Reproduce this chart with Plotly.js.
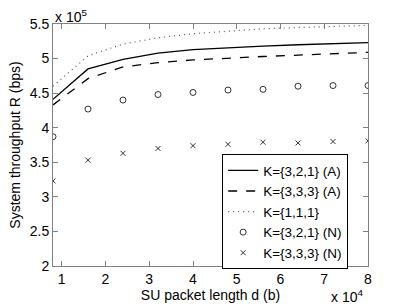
<!DOCTYPE html>
<html>
<head>
<meta charset="utf-8">
<script src="https://cdn.plot.ly/plotly-3.0.1.min.js"></script>
<style>html,body{margin:0;padding:0;background:#fff;}#chart{width:407px;height:306px;}</style>
</head>
<body>
<div id="chart"></div>
<script>
const packetLength = [8000, 16000, 24000, 32000, 40000, 48000, 56000, 64000, 72000, 80000];
const k321A = [441000, 485000, 499000, 508000, 513000, 516000, 518000, 520000, 522000, 523000];
const k333A = [433000, 471000, 488000, 494000, 498000, 501000, 503000, 505000, 507000, 509000];
const k111 = [460000, 504000, 521000, 530000, 536000, 540000, 543000, 545000, 547000, 548000];
const k321N = [387000, 427000, 440000, 448000, 451000, 454500, 455500, 460000, 461000, 461000];
const k333N = [323000, 353000, 363000, 370000, 374000, 376000, 379000, 378000, 380000, 381000];
const seriesNames = ['K={3,2,1} (A)', 'K={3,3,3} (A)', 'K={1,1,1}', 'K={3,2,1} (N)', 'K={3,3,3} (N)'];
const xTickVals = [10000, 20000, 30000, 40000, 50000, 60000, 70000, 80000];
const xTickText = ['1', '2', '3', '4', '5', '6', '7', '8'];
const yTickVals = [200000, 250000, 300000, 350000, 400000, 450000, 500000, 550000];
const yTickText = ['2', '2.5', '3', '3.5', '4', '4.5', '5', '5.5'];

const font = {family: 'Liberation Sans, Arial, sans-serif', size: 14, color: '#000'};
const legendFont = {family: 'Liberation Sans, Arial, sans-serif', size: 13.5, color: '#000'};
const traces = [
  {x: packetLength, y: k321A, name: seriesNames[0], mode: 'lines', line: {color: '#000', width: 1.3, dash: 'solid'}},
  {x: packetLength, y: k333A, name: seriesNames[1], mode: 'lines', line: {color: '#000', width: 1.3, dash: 'dash'}},
  {x: packetLength, y: k111, name: seriesNames[2], mode: 'lines', line: {color: '#555', width: 1.2, dash: '1px,4px'}},
  {x: packetLength, y: k321N, name: seriesNames[3], mode: 'markers', marker: {symbol: 'circle-open', size: 6, color: '#000', line: {width: 0.8, color: '#000'}}},
  {x: packetLength, y: k333N, name: seriesNames[4], mode: 'markers', marker: {symbol: 'x-thin-open', size: 5, color: '#000', line: {width: 0.8, color: '#000'}}}
];
const axisCommon = {showline: true, linecolor: '#808080', linewidth: 1, mirror: 'ticks', ticks: 'inside', ticklen: 5, tickcolor: '#808080', showgrid: false, zeroline: false, tickfont: font};
const layout = {
  width: 407, height: 306,
  margin: {l: 53, r: 39, t: 24, b: 40},
  paper_bgcolor: '#fff', plot_bgcolor: '#fff',
  font: font,
  showlegend: true,
  xaxis: Object.assign({}, axisCommon, {range: [8000, 80000], tickvals: xTickVals, ticktext: xTickText,
    title: {text: 'SU packet length d (b)', font: font, standoff: 1}}),
  yaxis: Object.assign({}, axisCommon, {range: [200000, 550000], tickvals: yTickVals, ticktext: yTickText,
    title: {text: 'System throughput R (bps)', font: font, standoff: 5}}),
  legend: {x: 0.537, y: 0.462, xanchor: 'left', yanchor: 'top', bgcolor: '#fff', bordercolor: '#000', borderwidth: 1, font: legendFont, tracegroupgap: 0},
  annotations: [
    {text: 'x 10<sup>5</sup>', xref: 'paper', yref: 'paper', x: 0, y: 1, xanchor: 'left', yanchor: 'bottom', showarrow: false, font: font, yshift: -3},
    {text: 'x 10<sup>4</sup>', xref: 'paper', yref: 'paper', x: 1, y: 0, xanchor: 'right', yanchor: 'top', showarrow: false, font: font, yshift: -19, xshift: -3}
  ]
};
Plotly.newPlot('chart', traces, layout, {displayModeBar: false, staticPlot: true});
</script>
</body>
</html>
